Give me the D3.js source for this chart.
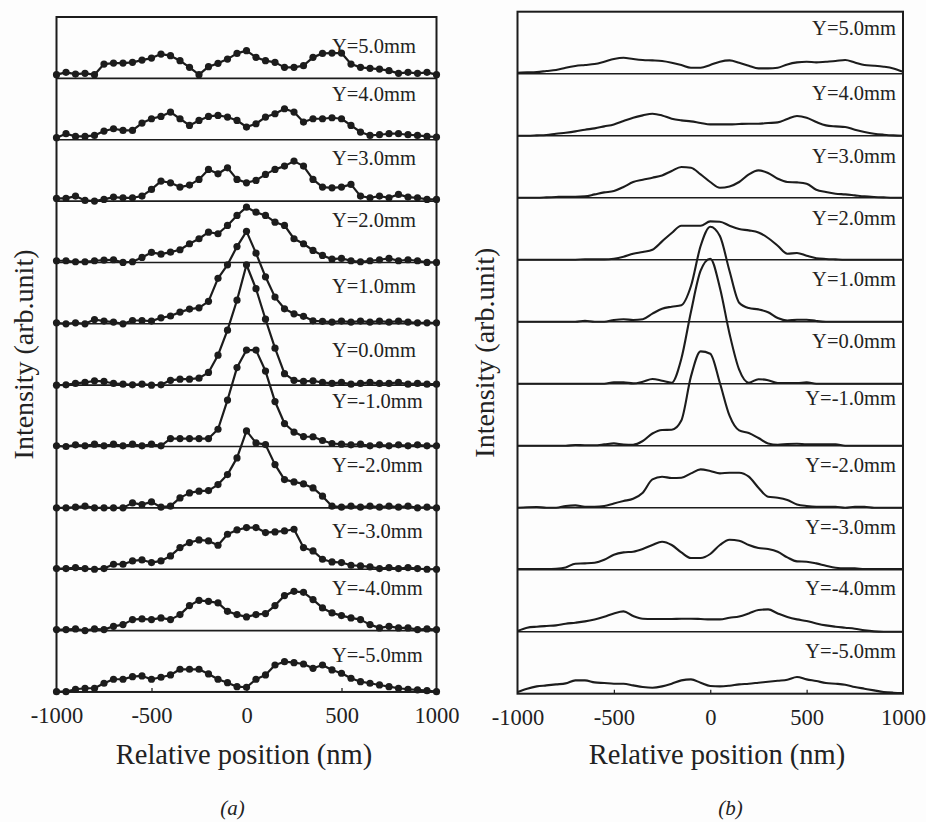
<!DOCTYPE html>
<html><head><meta charset="utf-8">
<script src="https://cdn.jsdelivr.net/npm/d3@7"></script>
<style>html,body{margin:0;padding:0;background:#fdfdfd;}svg{display:block;}</style>
</head><body>
<svg id="chart" width="926" height="822"></svg>
<script>
// ---------- DATA ----------
const positions = [-1000,-950,-900,-850,-800,-750,-700,-650,-600,-550,-500,-450,-400,-350,-300,-250,-200,-150,-100,-50,0,50,100,150,200,250,300,350,400,450,500,550,600,650,700,750,800,850,900,950,1000];
const labels = ["Y=5.0mm","Y=4.0mm","Y=3.0mm","Y=2.0mm","Y=1.0mm","Y=0.0mm","Y=-1.0mm","Y=-2.0mm","Y=-3.0mm","Y=-4.0mm","Y=-5.0mm"];
const xTicks = [-1000,-500,0,500,1000];

// panel (a): measured intensity (arb. unit)
const a_p5 = [3.7,6,4.3,5,3.7,14.3,15.3,15.3,16,18.3,20.3,24.3,22.7,17.7,11,3.7,11.7,15,19.3,25,27.7,21,17.7,16,11,11,12.7,21,25,25.3,25.3,14.3,11,10,9.3,7.7,5,6,5,6,3.7];
const a_p4 = [2,6,3.3,3.3,4.3,8.7,11,9.3,9.3,16.7,21,23.3,27.7,21,14.3,19.3,23.3,24.3,22.7,19.3,12.7,16,22.7,26,31,27.7,17.7,21,21,22,21,14.3,7.7,4.3,5,6,6,5,4.3,3.3,2.7];
const a_p3 = [2.7,2.7,5,0.7,0,1.7,4,3.3,3.3,5,11.7,20,18.3,14,16,21.7,31.7,27.3,33.3,21.7,18.3,20.7,26.7,31.7,35,40,35,21.7,14,13.3,14,16.7,5,3.3,5,3.3,6.7,4,3.3,1.7,1.7];
const a_p2 = [1.7,1.7,0.7,0.7,1.7,2.3,2.7,0,0.7,5,10,8.3,10.3,12.7,18.7,23.7,30.3,28.7,37,47,55.3,50.3,47,40.3,37,23.7,18.7,12,7,3.3,4,1.7,0.7,1.7,2.7,4,1.7,2.7,1.7,0,0];
const a_p1 = [1,0,1,0,4.3,2.7,1.7,0,3.3,3.3,2.7,6,7.8,11.7,14.7,16,22.5,45.5,59,77.3,92.5,70.7,47,26.7,15,10,7.5,3,2.5,1.7,2.7,1.7,2.7,1.7,2.7,1.7,2.7,1.7,1,1,1];
const a_0  = [0,0.3,1.7,2.7,4.3,3.7,1.7,1,0.3,1,0,0.3,4.8,6,6,7,12.7,30,55,85,120.5,96.5,66,37,11.5,4.8,3.7,4.3,2.7,1.7,2.7,1,1.7,2.7,1.7,1.7,2.7,1,1.7,1,1];
const a_m1 = [0.7,0,1.7,0.7,2.3,0.7,2.3,0.7,2.3,0.7,2.3,0.7,8,8,8,8,8,17.3,46.5,79,96.5,96.5,75.5,45,23,14.5,10,9.8,6,3,2.3,1.7,2.3,0.7,1.7,0.7,1.7,0.7,1.7,0.7,0.7];
const a_m2 = [0,0,0.7,1.7,0,0,0,0,5,3.3,6,0.7,1.7,10,15,16.7,17.3,23.3,33.3,50,77,65,63.3,43.3,28.3,26,24,20,11.7,1.7,0.7,1.7,0.7,1.7,0.7,1.7,0.7,1.7,0,0.7,0];
const a_m3 = [0.7,0.7,1.7,0.7,0,0.7,5,5,8.3,9.3,6.7,8.3,13.3,21.7,26.7,29.3,28.3,24,35,39.3,41.7,41.7,36.7,37.3,38.3,40,21.7,18.3,10,7.3,6.7,4,3.3,2.3,0.7,1.7,0.7,1.7,0.7,0,0];
const a_m4 = [1,1,1.7,0,1.7,1,4.3,6,11,11.7,11,12.7,11,16,25,30.3,29.3,27.7,19.3,16,13.7,16,17,25,35,39.3,38.3,31,22.7,17.7,15,12.7,11,6,2.7,4.3,2.7,2.7,1,1.7,1];
const a_m5 = [0.3,0.3,2.7,3.7,3.7,8.7,12.7,12.7,15.3,16,12.7,14.7,17,22.7,22.7,22.7,18,12.7,9.3,5.3,4.7,12.7,17,27,30.3,29.3,28,23.7,27,22,18.7,13.7,10.3,8.7,7,5.3,3.7,2.7,2,1.3,0.3];

// panel (b): simulated intensity (arb. unit)
const b_p5 = [1,1.3,1.7,2.7,3.7,6,7.7,8.7,9.7,12,14.7,16,14.7,13.7,13.3,12.7,11,8.7,6,6,8.7,12,13.3,11,8,5.3,5.3,6,9.3,11.3,12,11.3,12,12.7,13.7,11.3,8.7,8,7,5.3,2];
const b_p4 = [0,0,0.3,0.7,2,3,4.3,6,7.3,9.3,11.3,14.7,18,20.3,22,20.3,17,15.3,14.3,12.7,11.3,11.3,11.3,11.7,12,12,12.7,13.3,16.7,19.7,18,13.7,10.3,9.3,8.7,6,3.7,2,1,0.3,0];
const b_p3 = [0,0,0,0.3,0.7,1,1,1.3,3.3,5.3,6.7,10.7,15.7,18,20,22.3,26.7,30.7,30,23.3,15.7,10,11.3,15.7,23.3,27.3,24.7,19,15.7,15.3,14,8,5.7,4,3.3,2.3,1.3,0.7,0.3,0,0];
const b_p2 = [0,0,0,0,0,0,0,0.3,0.3,0.3,1,3,6,7.7,10,18.3,26.7,34,34,34,38.3,38,34,30.7,29.3,27.3,21.7,14,6,6.7,4,1.5,0.7,0.3,0,0,0,0,0,0,0];
const b_p1 = [0,0,0,0,0,0,0,1,0,0,1.7,2.5,1.7,2.5,8,13,15,16.5,35.7,75.7,95,85.7,50.7,19,13.7,12.3,9.5,3.7,1.2,2,2,0.7,0,0,0,0,0,0,0,0,0];
const b_0  = [0,0,0,0,0,0,0,0,0,0,1.3,1.3,0.3,2,4.7,3,1,25,72,113,125,96,50,14,1,4.5,3.5,0.7,0.7,0.7,1.3,0,0,0,0,0,0,0,0,0,0];
const b_m1 = [0,0,0,0,0,0,0.7,0.5,0.5,1.3,2.3,1.2,1,4.7,12.2,15.7,16,25.3,69.3,94.3,92,62.7,30,15.3,12.7,7.7,2.3,1,1.7,2,1.3,1.3,1.3,1.3,0,0,0,0,0,0,0];
const b_m2 = [0,0.5,0.7,0,0,1.7,2.3,1,1,1.7,4.3,6.7,9,15,28.3,31,29.7,30,34.3,38.3,36.7,34.3,35,35,31,20,11,10,7.7,3.3,1.7,1,1,1,0,1,1,0,0,0,0];
const b_m3 = [0.7,0.7,0.7,0.7,1,2.3,6,6.3,7,10,15,17.3,18,20.7,24.7,28,24.7,17.3,11.7,11.7,15.7,24.7,30,29,24.7,21.7,20.7,18,12.3,8.3,8,6.3,4,2,1.3,1.3,0.7,0.7,0.7,0.7,0.7];
const b_m4 = [0.7,4,5,5.7,6.3,8,9,10.3,12.3,15,18.3,20.3,15.7,13,12.7,12.7,12.7,13,13,12.7,12.3,12.3,14,15.3,18.3,21.7,22.3,18.3,14.7,12.3,10.7,8.3,6.3,5,4,3,1.3,0.3,0,0,0];
const b_m5 = [1.7,5,7.3,8.3,9.3,10.3,13.3,13.3,11.3,10.7,10,10,8.3,6.7,6,7.3,10,13.3,14.3,11,7.7,7.3,8,9.3,10,11,12,13,14,16.7,14.3,12.7,10.7,10,9,6.7,5,3.3,1.7,1,0.7];

const seriesA = [a_p5,a_p4,a_p3,a_p2,a_p1,a_0,a_m1,a_m2,a_m3,a_m4,a_m5];
const seriesB = [b_p5,b_p4,b_p3,b_p2,b_p1,b_0,b_m1,b_m2,b_m3,b_m4,b_m5];

// ---------- LAYOUT ----------
const INK = "#1c1c1c", TEXT = "#222";
const FONT = "'Liberation Serif','Times New Roman','DejaVu Serif',serif";
const panels = [
  {series: seriesA, left: 56.5, right: 436.5, top: 17, stripH: 61.36, stripUnits: 61.4,
   markers: true, curve: d3.curveLinear, labelAnchor: "start", labelX: 332,
   labelDy: [36,23,25,25.7,31,33,23,25,30,26,31],
   tickLabelY: 723, titleX: 244, caption: "(a)", captionX: 232.5},
  {series: seriesB, left: 517.5, right: 903, top: 11.7, stripH: 62, stripUnits: 62,
   markers: false, curve: d3.curveMonotoneX, labelAnchor: "end", labelX: 896,
   labelDy: [23.3,26,27,27,26,26,21.3,26,26,25,26],
   tickLabelY: 725, titleX: 717, caption: "(b)", captionX: 730.5}
];

const svg = d3.select("#chart");
svg.append("rect").attr("width", 926).attr("height", 822).attr("fill", "#fdfdfd");

panels.forEach(p => {
  const n = p.series.length;
  const bottom = p.top + n * p.stripH;
  const x = d3.scaleLinear().domain([-1000, 1000]).range([p.left, p.right]);
  const band = d3.scaleBand().domain(labels).range([p.top, bottom]).paddingInner(0).paddingOuter(0);
  const yH = d3.scaleLinear().domain([0, p.stripUnits]).range([0, p.stripH]);
  const g = svg.append("g");

  // strip separators (baselines)
  labels.forEach((lab, i) => {
    if (i < n - 1) {
      const yb = band(lab) + band.bandwidth();
      g.append("line").attr("x1", p.left).attr("x2", p.right)
        .attr("y1", yb).attr("y2", yb)
        .attr("stroke", INK).attr("stroke-width", 1.6);
    }
  });

  // frame
  g.append("rect").attr("x", p.left).attr("y", p.top)
    .attr("width", p.right - p.left).attr("height", bottom - p.top)
    .attr("fill", "none").attr("stroke", INK).attr("stroke-width", 2);

  // bottom axis
  const axis = d3.axisBottom(x).tickValues(xTicks).tickSizeInner(-4).tickSizeOuter(0)
    .tickFormat(d => String(d));
  const ax = g.append("g").attr("transform", `translate(0,${bottom})`).call(axis);
  ax.select(".domain").remove();
  ax.selectAll(".tick line").attr("stroke", INK).attr("stroke-width", 1.2)
    .filter(d => Math.abs(d) === 1000).remove();
  ax.selectAll(".tick text").attr("y", p.tickLabelY - bottom).attr("dy", 0)
    .attr("fill", TEXT).style("font-family", FONT).style("font-size", "22.5px");

  // curves
  labels.forEach((lab, i) => {
    const base = band(lab) + band.bandwidth();
    const vals = p.series[i];
    const pts = positions.map((pos, k) => [x(pos), base - yH(vals[k])]);
    g.append("path").datum(pts)
      .attr("d", d3.line().curve(p.curve))
      .attr("fill", "none").attr("stroke", INK)
      .attr("stroke-width", p.markers ? 2.2 : 2.1).attr("stroke-linejoin", "round");
    if (p.markers) {
      g.selectAll(null).data(pts).enter().append("circle")
        .attr("cx", d => d[0]).attr("cy", d => d[1]).attr("r", 3.6).attr("fill", INK);
    }
    g.append("text").attr("x", p.labelX).attr("y", band(lab) + p.labelDy[i])
      .attr("text-anchor", p.labelAnchor).attr("fill", TEXT)
      .style("font-family", FONT).style("font-size", "20.5px").text(lab);
  });

  // y title
  const cy = (p.top + bottom) / 2;
  g.append("text").attr("transform", `translate(${p.left - 24},${cy}) rotate(-90)`)
    .attr("text-anchor", "middle").attr("fill", TEXT)
    .style("font-family", FONT).style("font-size", "28px").text("Intensity (arb.unit)");
  // x title
  g.append("text").attr("x", p.titleX).attr("y", 764).attr("text-anchor", "middle")
    .attr("fill", TEXT).style("font-family", FONT).style("font-size", "28.5px")
    .text("Relative position (nm)");
  // caption
  g.append("text").attr("x", p.captionX).attr("y", 815).attr("text-anchor", "middle")
    .attr("fill", TEXT).style("font-family", FONT).style("font-style", "italic")
    .style("font-size", "21px").text(p.caption);
});
</script>
</body></html>
